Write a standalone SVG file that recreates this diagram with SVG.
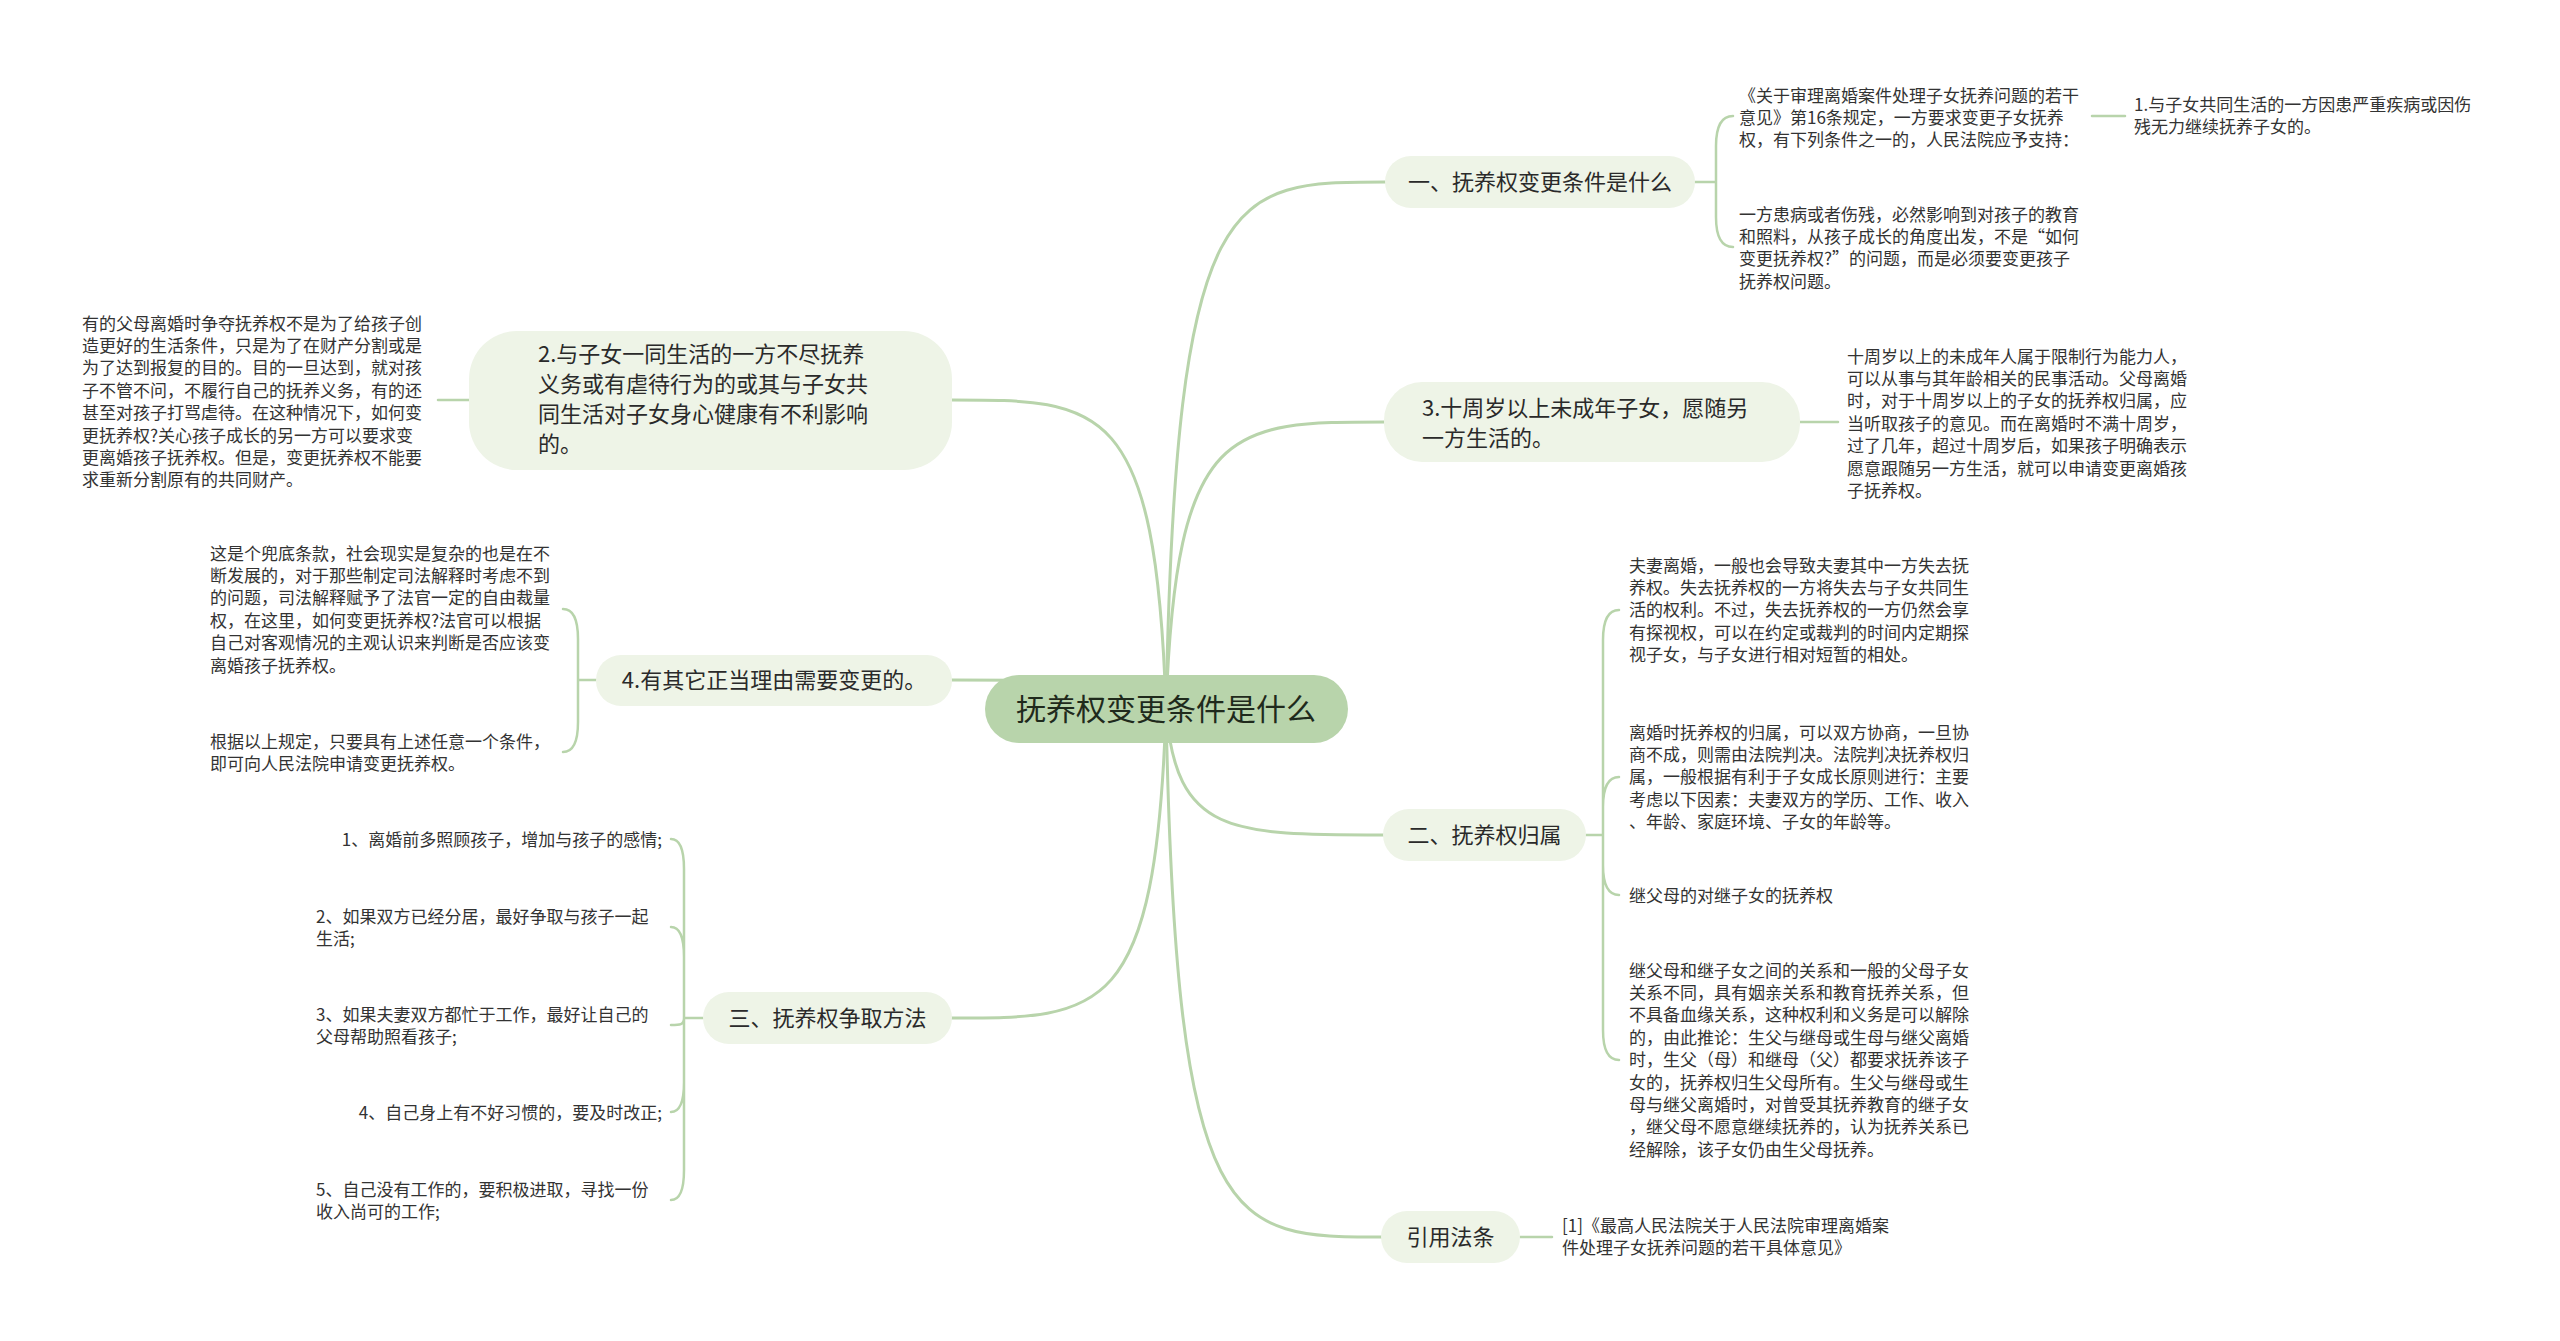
<svg xmlns="http://www.w3.org/2000/svg" width="2560" height="1341" viewBox="0 0 2560 1341">
<style>
text{font-family:"Noto Sans CJK SC","Noto Sans",sans-serif;fill:#333333}
.d{font-size:17px}
.m{font-size:22px;fill:#2a2a2a}
.r{font-size:30px;fill:#1f2a1c}
.nb{fill:#eef4e7}
.rb{fill:#b8d4ab}
.c{fill:none;stroke:#b8d4ab;stroke-width:3;stroke-linecap:round}
.s{fill:none;stroke:#b8d4ab;stroke-width:2.5;stroke-linecap:round}
</style>
<rect width="2560" height="1341" fill="#ffffff"/>
<g id="connectors">
<path class="c" d="M1166 709 C1176 182,1230 182,1385 182"/>
<path class="c" d="M1166 709 C1176 422,1230 422,1385 422"/>
<path class="c" d="M1166 709 C1176 835,1230 835,1384 835"/>
<path class="c" d="M1166 709 C1176 1237,1230 1237,1382 1237"/>
<path class="c" d="M1166 709 C1156 400,1102 400,952 400"/>
<path class="c" d="M1166 709 C1156 680,1102 680,952 680"/>
<path class="c" d="M1166 709 C1156 1018,1102 1018,952 1018"/>
<path class="s" d="M1695 182 L1716 182 M1716 182 L1716 146 Q1716 116 1733 116 M1716 182 L1716 217 Q1716 247 1733 247"/>
<path class="s" d="M2092 116 L2125 116"/>
<path class="s" d="M1800 422 L1838 422"/>
<path class="s" d="M1586 835 L1603 835 M1603 835 L1603 640 Q1603 610 1619 610 M1603 835 L1603 807 Q1603 777 1619 777 M1603 835 L1603 865 Q1603 895 1619 895 M1603 835 L1603 1030 Q1603 1060 1619 1060"/>
<path class="s" d="M1520 1237 L1552 1237"/>
<path class="s" d="M469 400 L438 400"/>
<path class="s" d="M596 680 L578 680 M578 680 L578 639 Q578 609 563 609 M578 680 L578 722 Q578 752 563 752"/>
<path class="s" d="M703 1018 L684 1018 M684 1018 L684 869 Q684 839 671 839 M684 1018 L684 957 Q684 927 671 927 M684 1018 C684 1025,680 1025,671 1025 M684 1018 L684 1082 Q684 1112 671 1112 M684 1018 L684 1170 Q684 1200 671 1200"/>
</g>
<g id="root">
<rect class="rb" x="985" y="675" width="363" height="68" rx="34"/>
<text class="r" x="1166" y="720" text-anchor="middle">抚养权变更条件是什么</text>
</g>
<g id="n1">
<rect class="nb" x="1385" y="156" width="310" height="52" rx="26"/>
<text class="m" x="1540" y="190" text-anchor="middle">一、抚养权变更条件是什么</text>
</g>
<g id="n1a">
<text class="d" x="1739" y="101.5"><tspan x="1739">《关于审理离婚案件处理子女抚养问题的若干</tspan><tspan x="1739" dy="22.4">意见》第16条规定，一方要求变更子女抚养</tspan><tspan x="1739" dy="22.4">权，有下列条件之一的，人民法院应予支持：</tspan></text>
</g>
<g id="n1a1">
<text class="d" x="2134" y="110.5"><tspan x="2134">1.与子女共同生活的一方因患严重疾病或因伤</tspan><tspan x="2134" dy="22.4">残无力继续抚养子女的。</tspan></text>
</g>
<g id="n1b">
<text class="d" x="1739" y="220.5"><tspan x="1739">一方患病或者伤残，必然影响到对孩子的教育</tspan><tspan x="1739" dy="22.4">和照料，从孩子成长的角度出发，不是“如何</tspan><tspan x="1739" dy="22.4">变更抚养权?”的问题，而是必须要变更孩子</tspan><tspan x="1739" dy="22.4">抚养权问题。</tspan></text>
</g>
<g id="n3">
<rect class="nb" x="1384" y="382" width="416" height="80" rx="38"/>
<text class="m" x="1422" y="416.4"><tspan x="1422">3.十周岁以上未成年子女，愿随另</tspan><tspan x="1422" dy="30">一方生活的。</tspan></text>
</g>
<g id="n3a">
<text class="d" x="1847" y="362.5"><tspan x="1847">十周岁以上的未成年人属于限制行为能力人，</tspan><tspan x="1847" dy="22.4">可以从事与其年龄相关的民事活动。父母离婚</tspan><tspan x="1847" dy="22.4">时，对于十周岁以上的子女的抚养权归属，应</tspan><tspan x="1847" dy="22.4">当听取孩子的意见。而在离婚时不满十周岁，</tspan><tspan x="1847" dy="22.4">过了几年，超过十周岁后，如果孩子明确表示</tspan><tspan x="1847" dy="22.4">愿意跟随另一方生活，就可以申请变更离婚孩</tspan><tspan x="1847" dy="22.4">子抚养权。</tspan></text>
</g>
<g id="n2">
<rect class="nb" x="1383" y="809" width="203" height="52" rx="26"/>
<text class="m" x="1484.5" y="843.4" text-anchor="middle">二、抚养权归属</text>
</g>
<g id="n2a">
<text class="d" x="1629" y="571.5"><tspan x="1629">夫妻离婚，一般也会导致夫妻其中一方失去抚</tspan><tspan x="1629" dy="22.4">养权。失去抚养权的一方将失去与子女共同生</tspan><tspan x="1629" dy="22.4">活的权利。不过，失去抚养权的一方仍然会享</tspan><tspan x="1629" dy="22.4">有探视权，可以在约定或裁判的时间内定期探</tspan><tspan x="1629" dy="22.4">视子女，与子女进行相对短暂的相处。</tspan></text>
</g>
<g id="n2b">
<text class="d" x="1629" y="738.5"><tspan x="1629">离婚时抚养权的归属，可以双方协商，一旦协</tspan><tspan x="1629" dy="22.4">商不成，则需由法院判决。法院判决抚养权归</tspan><tspan x="1629" dy="22.4">属，一般根据有利于子女成长原则进行：主要</tspan><tspan x="1629" dy="22.4">考虑以下因素：夫妻双方的学历、工作、收入</tspan><tspan x="1629" dy="22.4">、年龄、家庭环境、子女的年龄等。</tspan></text>
</g>
<g id="n2c">
<text class="d" x="1629" y="901.5">继父母的对继子女的抚养权</text>
</g>
<g id="n2d">
<text class="d" x="1629" y="976.5"><tspan x="1629">继父母和继子女之间的关系和一般的父母子女</tspan><tspan x="1629" dy="22.4">关系不同，具有姻亲关系和教育抚养关系，但</tspan><tspan x="1629" dy="22.4">不具备血缘关系，这种权利和义务是可以解除</tspan><tspan x="1629" dy="22.4">的，由此推论：生父与继母或生母与继父离婚</tspan><tspan x="1629" dy="22.4">时，生父（母）和继母（父）都要求抚养该子</tspan><tspan x="1629" dy="22.4">女的，抚养权归生父母所有。生父与继母或生</tspan><tspan x="1629" dy="22.4">母与继父离婚时，对曾受其抚养教育的继子女</tspan><tspan x="1629" dy="22.4">，继父母不愿意继续抚养的，认为抚养关系已</tspan><tspan x="1629" dy="22.4">经解除，该子女仍由生父母抚养。</tspan></text>
</g>
<g id="nref">
<rect class="nb" x="1381" y="1211" width="139" height="52" rx="26"/>
<text class="m" x="1450.5" y="1245.4" text-anchor="middle">引用法条</text>
</g>
<g id="nrefa">
<text class="d" x="1562" y="1231.5"><tspan x="1562">[1]《最高人民法院关于人民法院审理离婚案</tspan><tspan x="1562" dy="22.4">件处理子女抚养问题的若干具体意见》</tspan></text>
</g>
<g id="nL2">
<rect class="nb" x="469" y="331" width="483" height="139" rx="48"/>
<text class="m" x="538" y="362.4"><tspan x="538">2.与子女一同生活的一方不尽抚养</tspan><tspan x="538" dy="29.8">义务或有虐待行为的或其与子女共</tspan><tspan x="538" dy="29.8">同生活对子女身心健康有不利影响</tspan><tspan x="538" dy="29.8">的。</tspan></text>
</g>
<g id="nL2a">
<text class="d" x="82" y="329.5"><tspan x="82">有的父母离婚时争夺抚养权不是为了给孩子创</tspan><tspan x="82" dy="22.4">造更好的生活条件，只是为了在财产分割或是</tspan><tspan x="82" dy="22.4">为了达到报复的目的。目的一旦达到，就对孩</tspan><tspan x="82" dy="22.4">子不管不问，不履行自己的抚养义务，有的还</tspan><tspan x="82" dy="22.4">甚至对孩子打骂虐待。在这种情况下，如何变</tspan><tspan x="82" dy="22.4">更抚养权?关心孩子成长的另一方可以要求变</tspan><tspan x="82" dy="22.4">更离婚孩子抚养权。但是，变更抚养权不能要</tspan><tspan x="82" dy="22.4">求重新分割原有的共同财产。</tspan></text>
</g>
<g id="nL4">
<rect class="nb" x="596" y="655" width="356" height="51" rx="25"/>
<text class="m" x="774" y="688.4" text-anchor="middle">4.有其它正当理由需要变更的。</text>
</g>
<g id="nL4a">
<text class="d" x="210" y="559.5"><tspan x="210">这是个兜底条款，社会现实是复杂的也是在不</tspan><tspan x="210" dy="22.4">断发展的，对于那些制定司法解释时考虑不到</tspan><tspan x="210" dy="22.4">的问题，司法解释赋予了法官一定的自由裁量</tspan><tspan x="210" dy="22.4">权，在这里，如何变更抚养权?法官可以根据</tspan><tspan x="210" dy="22.4">自己对客观情况的主观认识来判断是否应该变</tspan><tspan x="210" dy="22.4">离婚孩子抚养权。</tspan></text>
</g>
<g id="nL4b">
<text class="d" x="210" y="747.5"><tspan x="210">根据以上规定，只要具有上述任意一个条件，</tspan><tspan x="210" dy="22.4">即可向人民法院申请变更抚养权。</tspan></text>
</g>
<g id="nL3">
<rect class="nb" x="703" y="992" width="249" height="52" rx="26"/>
<text class="m" x="827.5" y="1026.4" text-anchor="middle">三、抚养权争取方法</text>
</g>
<g id="nL3a">
<text class="d" x="662" y="845.5" text-anchor="end">1、离婚前多照顾孩子，增加与孩子的感情;</text>
</g>
<g id="nL3b">
<text class="d" x="316" y="922.5"><tspan x="316">2、如果双方已经分居，最好争取与孩子一起</tspan><tspan x="316" dy="22.4">生活;</tspan></text>
</g>
<g id="nL3c">
<text class="d" x="316" y="1020.5"><tspan x="316">3、如果夫妻双方都忙于工作，最好让自己的</tspan><tspan x="316" dy="22.4">父母帮助照看孩子;</tspan></text>
</g>
<g id="nL3d">
<text class="d" x="662" y="1118.5" text-anchor="end">4、自己身上有不好习惯的，要及时改正;</text>
</g>
<g id="nL3e">
<text class="d" x="316" y="1195.5"><tspan x="316">5、自己没有工作的，要积极进取，寻找一份</tspan><tspan x="316" dy="22.4">收入尚可的工作;</tspan></text>
</g>
</svg>
